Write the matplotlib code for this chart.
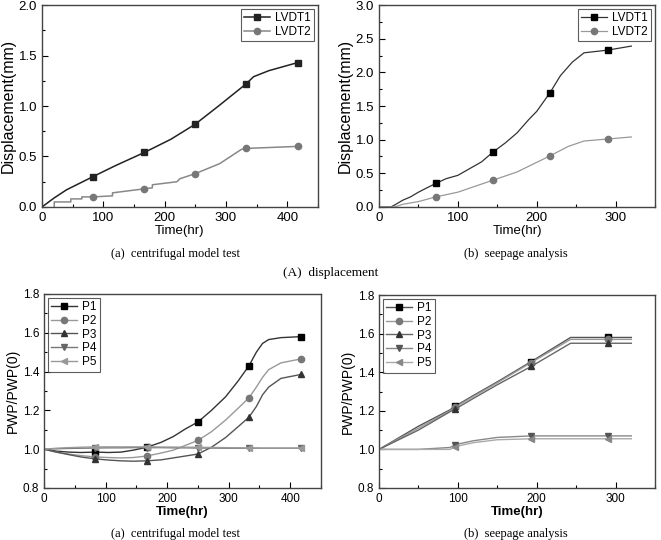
import matplotlib
matplotlib.use("Agg")
import matplotlib.pyplot as plt
from matplotlib.ticker import MultipleLocator

plt.rcParams['font.family'] = ['Liberation Sans', 'DejaVu Sans']

# (A) displacement - centrifugal model test
t_a1 = [0, 20, 40, 83, 120, 167, 210, 250, 290, 333, 345, 370, 417]
lvdt1_a = [0, 0.09, 0.17, 0.30, 0.41, 0.54, 0.67, 0.82, 1.01, 1.22, 1.29, 1.35, 1.43]
lvdt1_a_mk = [3, 5, 7, 9, 12]
t_a2 = [20, 20, 47, 47, 65, 65, 83, 115, 115, 167, 180, 180, 220, 225, 250, 290, 325, 333, 417]
lvdt2_a = [0, 0.05, 0.05, 0.08, 0.08, 0.10, 0.10, 0.11, 0.14, 0.18, 0.19, 0.22, 0.25, 0.28, 0.33, 0.43, 0.57, 0.58, 0.60]
lvdt2_a_mk = [6, 9, 14, 17, 18]

# (A) displacement - seepage analysis
t_b1 = [0, 15, 20, 30, 40, 50, 60, 72, 85, 100, 115, 130, 145, 160, 175, 190, 200, 217, 230, 245, 260, 275, 290, 300, 320]
lvdt1_b = [0, 0, 0.03, 0.10, 0.15, 0.22, 0.28, 0.35, 0.42, 0.47, 0.57, 0.67, 0.82, 0.95, 1.10, 1.30, 1.42, 1.70, 1.95, 2.15, 2.29, 2.31, 2.33, 2.35, 2.39]
lvdt1_b_mk = [7, 12, 17, 22]
t_b2 = [0, 20, 30, 50, 72, 100, 145, 175, 217, 240, 260, 290, 320]
lvdt2_b = [0, 0, 0.04, 0.08, 0.15, 0.22, 0.40, 0.52, 0.76, 0.90, 0.98, 1.01, 1.04]
lvdt2_b_mk = [4, 6, 8, 11]

# (B) PWP - centrifugal model test
t_c = [0, 20, 40, 60, 83, 105, 125, 145, 167, 190, 210, 230, 250, 272, 295, 315, 333, 345, 355, 365, 385, 417]
p1_c = [1.0, 0.99, 0.985, 0.983, 0.985, 0.983, 0.985, 0.995, 1.01, 1.035, 1.065, 1.105, 1.14, 1.2, 1.27, 1.35, 1.43, 1.50, 1.545, 1.565, 1.575, 1.58]
p2_c = [1.0, 0.985, 0.975, 0.967, 0.96, 0.957, 0.955, 0.957, 0.965, 0.98, 0.995, 1.02, 1.045, 1.09, 1.15, 1.21, 1.265, 1.32, 1.37, 1.41, 1.445, 1.465]
p3_c = [1.0, 0.985, 0.972, 0.96, 0.95, 0.944, 0.94, 0.938, 0.94, 0.945, 0.955, 0.965, 0.975, 1.01, 1.06, 1.115, 1.165, 1.22, 1.28, 1.32, 1.365, 1.385]
p4_c = [1.0, 1.002, 1.004, 1.005, 1.006, 1.007, 1.007, 1.008, 1.008, 1.008, 1.007, 1.007, 1.006, 1.006, 1.005, 1.005, 1.005, 1.005, 1.005, 1.005, 1.005, 1.005]
p5_c = [1.0, 1.005, 1.008, 1.01, 1.012, 1.012, 1.012, 1.012, 1.012, 1.011, 1.011, 1.01, 1.01, 1.009, 1.008, 1.007, 1.006, 1.006, 1.005, 1.005, 1.005, 1.005]
mk_c = [4, 8, 12, 16, 21]

# (B) PWP - seepage analysis
t_d = [0, 50, 90, 97, 120, 150, 193, 243, 290, 320]
p1_d = [1.0, 1.12, 1.205, 1.225, 1.28, 1.35, 1.455, 1.58, 1.58, 1.58]
p2_d = [1.0, 1.11, 1.20, 1.22, 1.275, 1.345, 1.45, 1.57, 1.57, 1.57]
p3_d = [1.0, 1.10, 1.195, 1.21, 1.265, 1.335, 1.43, 1.55, 1.55, 1.55]
p4_d = [1.0, 1.0, 1.01, 1.025, 1.045, 1.062, 1.07, 1.07, 1.07, 1.07]
p5_d = [1.0, 1.0, 1.0, 1.015, 1.035, 1.05, 1.055, 1.055, 1.055, 1.055]
mk_d = [3, 6, 8]

fig = plt.figure(figsize=(6.61, 5.4), dpi=100)

def style(ax, xmax, xmaj, ymin, ymax, ymaj, ylabel, bold=False, big=False):
    ax.set_xlim(0, xmax)
    ax.set_ylim(ymin, ymax)
    ax.xaxis.set_major_locator(MultipleLocator(xmaj))
    ax.xaxis.set_minor_locator(MultipleLocator(xmaj / 2))
    ax.yaxis.set_major_locator(MultipleLocator(ymaj))
    ax.yaxis.set_minor_locator(MultipleLocator(ymaj / 2))
    ax.tick_params(which='both', direction='in', labelsize=9.5 if big else 8.5, width=0.8)
    ax.tick_params(which='major', length=4)
    ax.tick_params(which='minor', length=2)
    for s in ax.spines.values():
        s.set_linewidth(1.0)
        s.set_color('#444444')
    ax.set_xlabel('Time(hr)', fontsize=9.5, labelpad=1, fontweight='bold' if bold else 'normal')
    ax.set_ylabel(ylabel, fontsize=11.5 if big else 10, labelpad=2)

def legend(ax, loc):
    lg = ax.legend(loc=loc, fontsize=8.5, frameon=True, fancybox=False, borderaxespad=0.3,
                   handlelength=2.2, handletextpad=0.4, labelspacing=0.15, borderpad=0.3)
    lg.get_frame().set_edgecolor('#333333')
    lg.get_frame().set_linewidth(0.8)

ax1 = fig.add_axes([0.0635, 0.6167, 0.4175, 0.374])
ax1.plot(t_a1, lvdt1_a, color='#222222', lw=1.1, marker='s', ms=4.5, markevery=lvdt1_a_mk, label='LVDT1')
ax1.plot(t_a2, lvdt2_a, color='#888888', lw=1.1, marker='o', ms=4.5, mfc='#777777', mec='#777777',
         markevery=lvdt2_a_mk, label='LVDT2')
style(ax1, 450, 100, 0, 2.0, 0.5, 'Displacement(mm)', big=True)
legend(ax1, 'upper right')

ax2 = fig.add_axes([0.5734, 0.6167, 0.4175, 0.374])
ax2.plot(t_b1, lvdt1_b, color='#333333', lw=0.9, marker='s', ms=4.5, mfc='black', mec='black',
         markevery=lvdt1_b_mk, label='LVDT1')
ax2.plot(t_b2, lvdt2_b, color='#999999', lw=0.9, marker='o', ms=4.5, mfc='#777777', mec='#777777',
         markevery=lvdt2_b_mk, label='LVDT2')
style(ax2, 350, 100, 0, 3.0, 0.5, 'Displacement(mm)', big=True)
legend(ax2, 'upper right')

ax3 = fig.add_axes([0.0666, 0.0963, 0.419, 0.3593])
series_c = [(p1_c, 'P1', 's', '#333333', 'black'), (p2_c, 'P2', 'o', '#999999', '#777777'),
            (p3_c, 'P3', '^', '#555555', '#333333'), (p4_c, 'P4', 'v', '#777777', '#666666'),
            (p5_c, 'P5', '<', '#999999', '#999999')]
for y, lab, m, lc, mc in series_c:
    ax3.plot(t_c, y, color=lc, lw=1.0, marker=m, ms=4.5, mfc=mc, mec=mc, markevery=mk_c, label=lab)
style(ax3, 450, 100, 0.8, 1.8, 0.2, 'PWP/PWP(0)', bold=True)
legend(ax3, 'upper left')

ax4 = fig.add_axes([0.5734, 0.0963, 0.4175, 0.3574])
series_d = [(p1_d, 'P1', 's', '#555555', 'black'), (p2_d, 'P2', 'o', '#999999', '#777777'),
            (p3_d, 'P3', '^', '#666666', '#333333'), (p4_d, 'P4', 'v', '#888888', '#555555'),
            (p5_d, 'P5', '<', '#aaaaaa', '#888888')]
for y, lab, m, lc, mc in series_d:
    ax4.plot(t_d, y, color=lc, lw=1.0, marker=m, ms=4.5, mfc=mc, mec=mc, markevery=mk_d, label=lab)
style(ax4, 350, 100, 0.8, 1.8, 0.2, 'PWP/PWP(0)', bold=True)
legend(ax4, 'upper left')

serif = ['Liberation Serif', 'DejaVu Serif']
fig.text(0.265, 1 - 254 / 540, '(a)  centrifugal model test', ha='center', va='center', fontsize=9, family=serif)
fig.text(0.78, 1 - 254 / 540, '(b)  seepage analysis', ha='center', va='center', fontsize=9, family=serif)
fig.text(0.5, 1 - 273 / 540, '(A)  displacement', ha='center', va='center', fontsize=9.5, family=serif)
fig.text(0.265, 1 - 534 / 540, '(a)  centrifugal model test', ha='center', va='center', fontsize=9, family=serif)
fig.text(0.78, 1 - 534 / 540, '(b)  seepage analysis', ha='center', va='center', fontsize=9, family=serif)

fig.savefig('out.png', dpi=100)
